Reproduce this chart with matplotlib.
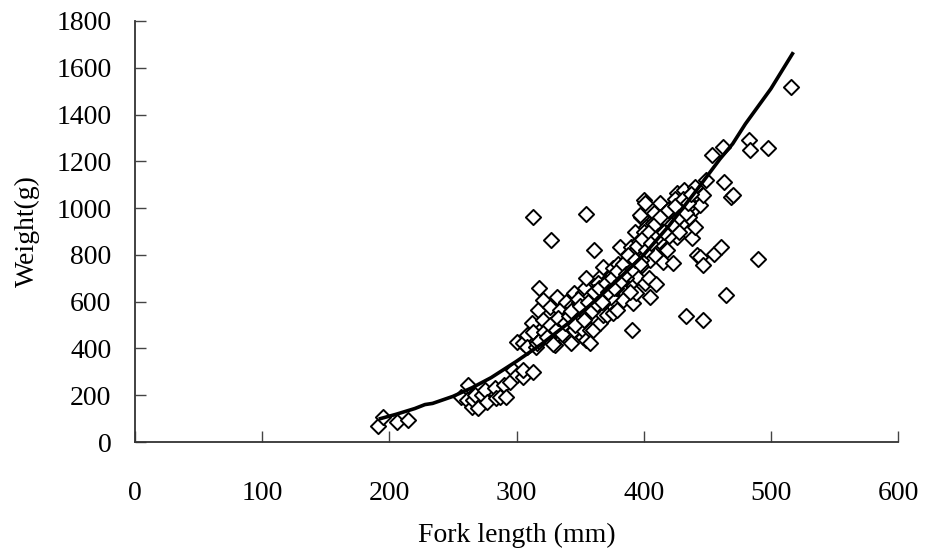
import matplotlib
matplotlib.use("Agg")
import matplotlib.pyplot as plt

plt.rcParams["font.family"] = ["Liberation Serif", "DejaVu Serif"]

fork_length = [
    191, 195, 206, 215, 256, 261, 262, 265, 266, 267,
    270, 273, 275, 277, 283, 284, 287, 290, 292, 295,
    297, 300, 300, 305, 305, 305, 308, 308, 312, 313,
    313, 313, 315, 316, 317, 318, 321, 321, 321, 326,
    327, 330, 330, 331, 332, 334, 339, 339, 340, 342,
    342, 343, 345, 345, 348, 350, 351, 352, 352, 352,
    354, 355, 355, 355, 355, 358, 358, 358, 360, 360,
    361, 363, 363, 366, 366, 366, 368, 368, 371, 371,
    373, 376, 376, 379, 381, 381, 381, 383, 384, 385,
    385, 390, 390, 391, 391, 392, 393, 398, 394, 395,
    405, 397, 397, 400, 399, 401, 401, 402, 402, 405,
    404, 407, 407, 410, 410, 411, 413, 413, 415, 417,
    418, 418, 419, 423, 423, 426, 426, 430, 430, 430,
    432, 433, 436, 438, 438, 440, 440, 442, 440, 444,
    444, 447, 447, 447, 449, 454, 455, 461, 462, 463,
    465, 469, 470, 483, 484, 490, 498, 516, 328, 335,
    337, 344, 347, 349, 353, 357, 362, 364, 367, 369,
    372, 374, 377, 378, 380, 382, 386, 387, 388, 389,
    392, 394, 396, 398, 400, 403, 406, 408, 409, 412,
    414, 416, 420, 421, 424, 427, 428, 434, 436, 425,
    318, 322, 324, 326, 329, 331, 333, 336, 338, 341,
    343, 346, 348, 350, 353, 356, 359, 361, 363, 365,
    367, 370, 372, 375, 377, 379, 382, 384, 386, 388,
    391, 393, 395, 397, 399, 402, 404, 406, 409, 411,
    413, 416, 419, 422, 425, 428, 431, 433, 435, 437,
]
weight = [
    68, 108, 84, 94, 194, 180, 244, 151, 180, 201,
    144, 201, 222, 172, 229, 187, 194, 244, 194, 258,
    308, 286, 429, 279, 308, 423, 457, 407, 507, 300,
    472, 963, 407, 422, 564, 660, 450, 521, 607, 578,
    864, 464, 415, 521, 621, 564, 450, 600, 470, 550,
    507, 422, 636, 479, 593, 550, 493, 636, 450, 479,
    657, 700, 973, 436, 550, 593, 479, 422, 536, 479,
    821, 650, 636, 707, 578, 507, 750, 543, 650, 543,
    700, 744, 550, 564, 707, 835, 650, 650, 607, 735,
    771, 835, 678, 792, 479, 594, 899, 963, 636, 707,
    620, 821, 970, 1035, 757, 1020, 678, 864, 920, 778,
    700, 821, 936, 936, 675, 885, 1021, 960, 771, 979,
    970, 821, 920, 983, 765, 878, 1063, 1020, 1006, 935,
    1077, 540, 963, 871, 1043, 1091, 1000, 800, 920, 1013,
    791, 1056, 757, 521, 1120, 1227, 804, 834, 1261, 1112,
    630, 1047, 1056, 1291, 1248, 782, 1257, 1518, 440, 470,
    520, 580, 520, 600, 560, 620, 590, 680, 620, 600,
    680, 620, 700, 660, 760, 700, 700, 780, 740, 640,
    760, 820, 860, 780, 900, 840, 870, 980, 800, 860,
    900, 950, 880, 1000, 940, 990, 900, 1000, 1050, 1040,
    430, 470, 450, 500, 420, 480, 530, 460, 510, 540,
    560, 500, 610, 580, 520, 600, 560, 640, 590, 660,
    600, 680, 640, 700, 660, 730, 690, 760, 720, 800,
    740, 780, 840, 760, 870, 820, 900, 850, 930, 880,
    960, 900, 990, 930, 1010, 960, 1040, 980, 1020, 1060,
]

# fitted length-weight curve
curve_length = [193, 205, 220, 228, 234, 250, 265, 280, 300, 320, 340, 360,
                380, 400, 420, 440, 460, 470, 480, 500, 517]
curve_weight = [100, 118, 143, 160, 165, 195, 232, 275, 345, 420, 505, 595,
                695, 800, 925, 1065, 1210, 1275, 1360, 1510, 1660]

fig = plt.figure(figsize=(9.25, 5.49), dpi=100)
ax = fig.add_axes([135 / 925, 1 - 442 / 549, 763 / 925, 421 / 549])

ax.scatter(fork_length, weight, marker="D", s=60, facecolors="white",
           edgecolors="black", linewidths=1.4, zorder=2)
ax.plot(curve_length, curve_weight, color="black", lw=2.6, zorder=3)

ax.set_xlim(0, 600)
ax.set_ylim(0, 1800)
ax.set_xticks(range(0, 601, 100))
ax.set_yticks(range(0, 1801, 200))
for side in ("top", "right"):
    ax.spines[side].set_visible(False)
for side in ("left", "bottom"):
    ax.spines[side].set_linewidth(1.3)
    ax.spines[side].set_color("#333333")
ax.tick_params(direction="in", length=8, width=1, color="#444444", labelsize=20)
ax.tick_params(axis="x", pad=28)
ax.tick_params(axis="y", pad=17)

ax.set_xlabel("Fork length (mm)", fontsize=20, labelpad=12)
ax.set_ylabel("Weight(g)", fontsize=20, labelpad=12)

fig.savefig("out.png", dpi=100)
